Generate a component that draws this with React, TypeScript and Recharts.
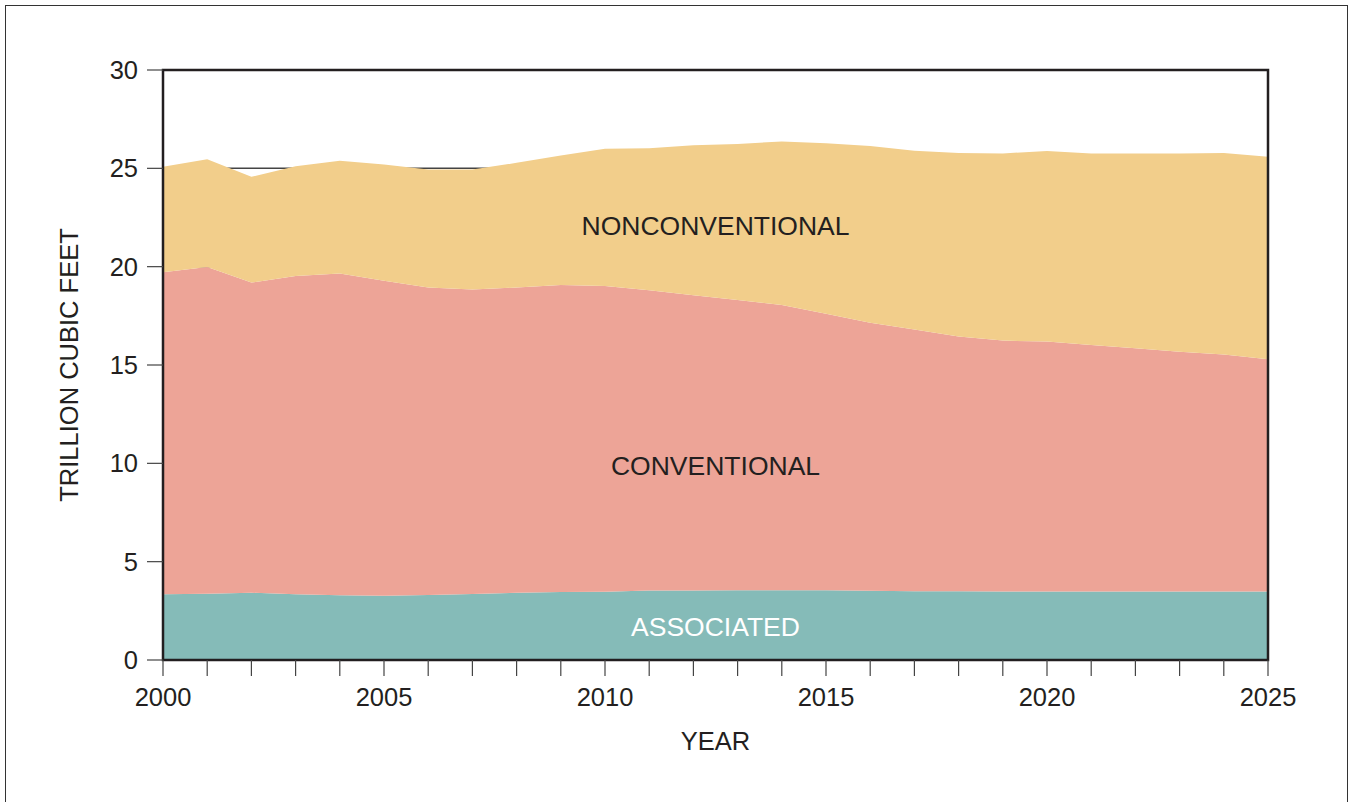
import React from "react";
import {
  AreaChart, Area, XAxis, YAxis, CartesianGrid, ReferenceArea, ReferenceDot
} from "recharts";

// values, trillion cubic feet
const years = [2000, 2001, 2002, 2003, 2004, 2005, 2006, 2007, 2008, 2009, 2010, 2011, 2012,
  2013, 2014, 2015, 2016, 2017, 2018, 2019, 2020, 2021, 2022, 2023, 2024, 2025];
const associated = [3.34, 3.37, 3.42, 3.34, 3.29, 3.27, 3.30, 3.36, 3.42, 3.46, 3.47, 3.53, 3.54,
  3.55, 3.55, 3.55, 3.52, 3.50, 3.49, 3.48, 3.48, 3.48, 3.48, 3.48, 3.48, 3.48];
const conventional = [16.37, 16.61, 15.77, 16.19, 16.36, 16.02, 15.64, 15.48, 15.52, 15.61, 15.55, 15.27, 15.01,
  14.75, 14.50, 14.05, 13.63, 13.30, 12.96, 12.76, 12.71, 12.54, 12.37, 12.20, 12.06, 11.81];
const nonconventional = [5.37, 5.48, 5.38, 5.58, 5.73, 5.90, 6.00, 6.10, 6.34, 6.58, 6.98, 7.22, 7.63,
  7.94, 8.32, 8.67, 8.99, 9.10, 9.33, 9.52, 9.69, 9.74, 9.90, 10.07, 10.24, 10.30];
const yTicks = [0, 5, 10, 15, 20, 25, 30];
const xLabelYears = [2000, 2005, 2010, 2015, 2020, 2025];

const data = years.map((y, i) => ({
  year: y,
  associated: associated[i],
  conventional: conventional[i],
  nonconventional: nonconventional[i],
}));

const INK = "#231f20";
const FONT = "'Liberation Sans', Arial, sans-serif";
const FS = 25.5;

export default function App() {
  const tickStyle = { fill: INK, fontSize: FS, fontFamily: FONT };
  const textStyle = { fill: INK, fontSize: FS, fontFamily: FONT };
  const areaText = { ...textStyle, fontSize: 26.5 };
  return (
    <div style={{ position: "absolute", left: 0, top: 0, width: 1351, height: 802, background: "#fff", overflow: "hidden" }}>
      <div style={{ position: "absolute", left: 5, top: 5, width: 1341, height: 820, border: "1.5px solid #333" }} />
      <div style={{ position: "absolute", left: 0, top: 0 }}>
        <AreaChart width={1351} height={802} data={data}
          margin={{ top: 70, right: 83, bottom: 92, left: 43 }}>
          <CartesianGrid vertical={false} stroke="#444" strokeWidth={1.5} />
          <XAxis dataKey="year" type="number" domain={[2000, 2025]} ticks={years}
            interval={0} tickSize={16} tickMargin={12} height={50}
            tickFormatter={(v: number) => (xLabelYears.includes(v) ? String(v) : "")}
            tick={tickStyle} stroke={INK} tickLine={{ stroke: "#444", strokeWidth: 1.2 }}
            label={{ value: "YEAR", position: "insideBottom", offset: -40, style: textStyle }} />
          <YAxis type="number" domain={[0, 30]} ticks={yTicks} width={120}
            tickSize={16} tickMargin={9} tick={tickStyle} stroke={INK}
            tickLine={{ stroke: "#444", strokeWidth: 1.2 }}
            label={{ value: "TRILLION CUBIC FEET", angle: -90, position: "insideLeft", offset: 26,
              style: { ...textStyle, textAnchor: "middle" } }} />
          <Area type="linear" dataKey="associated" stackId="a" stroke="none" fill="#85bbb8" fillOpacity={1} isAnimationActive={false} />
          <Area type="linear" dataKey="conventional" stackId="a" stroke="none" fill="#eda497" fillOpacity={1} isAnimationActive={false} />
          <Area type="linear" dataKey="nonconventional" stackId="a" stroke="none" fill="#f2ce8b" fillOpacity={1} isAnimationActive={false} />
          <ReferenceArea x1={2000} x2={2025} y1={0} y2={30} fill="none" stroke={INK} strokeWidth={2.5} ifOverflow="visible" />
          <ReferenceDot x={2012.5} y={22.1} r={0} stroke="none"
            label={{ value: "NONCONVENTIONAL", position: "center", style: areaText }} />
          <ReferenceDot x={2012.5} y={9.9} r={0} stroke="none"
            label={{ value: "CONVENTIONAL", position: "center", style: areaText }} />
          <ReferenceDot x={2012.5} y={1.7} r={0} stroke="none"
            label={{ value: "ASSOCIATED", position: "center", style: { ...areaText, fill: "#ffffff" } }} />
        </AreaChart>
      </div>
    </div>
  );
}
